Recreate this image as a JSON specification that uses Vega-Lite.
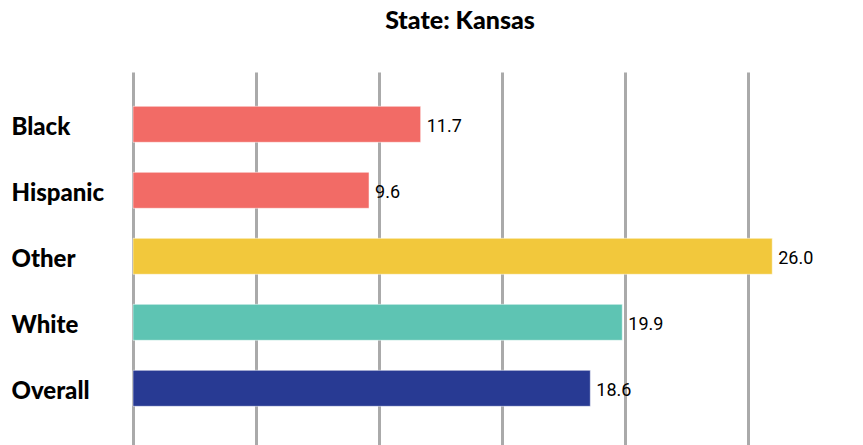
{
  "$schema": "https://vega.github.io/schema/vega-lite/v6.json",
  "autosize": "none",
  "width": 654,
  "height": 373,
  "padding": {"left": 133, "top": 72, "right": 76, "bottom": 0},
  "background": "white",
  "title": {
    "text": "State: Kansas",
    "font": "Lato",
    "fontSize": 25,
    "fontWeight": 900,
    "color": "#000000",
    "anchor": "middle",
    "offset": 38
  },
  "config": {"view": {"stroke": null}},
  "data": {
    "values": [
      {"group": "Black", "value": 11.7},
      {"group": "Hispanic", "value": 9.6},
      {"group": "Other", "value": 26.0},
      {"group": "White", "value": 19.9},
      {"group": "Overall", "value": 18.6}
    ]
  },
  "encoding": {
    "y": {
      "field": "group",
      "type": "nominal",
      "sort": ["Black", "Hispanic", "Other", "White", "Overall"],
      "scale": {"paddingInner": 0.455, "paddingOuter": 0.553, "align": 0.47},
      "axis": {
        "title": null,
        "orient": "left",
        "ticks": false,
        "domain": false,
        "labelAlign": "left",
        "labelPadding": 122,
        "labelOffset": 4,
        "labelFont": "Lato",
        "labelFontSize": 24,
        "labelFontWeight": 900,
        "labelColor": "#000000"
      }
    },
    "x": {
      "field": "value",
      "type": "quantitative",
      "scale": {"domain": [0, 26.6], "nice": false},
      "axis": {
        "title": null,
        "labels": false,
        "ticks": false,
        "domain": false,
        "grid": true,
        "values": [0, 5, 10, 15, 20, 25],
        "gridColor": "#aaaaaa",
        "gridWidth": 3,
        "gridOpacity": 1
      }
    }
  },
  "layer": [
    {
      "mark": {"type": "bar", "stroke": "#ffffff", "strokeOpacity": 0.5, "strokeWidth": 1},
      "encoding": {
        "color": {
          "field": "group",
          "type": "nominal",
          "scale": {
            "domain": ["Black", "Hispanic", "Other", "White", "Overall"],
            "range": ["#F26B66", "#F26B66", "#F2C83C", "#5EC4B3", "#283A93"]
          },
          "legend": null
        }
      }
    },
    {
      "mark": {
        "type": "text",
        "align": "left",
        "baseline": "middle",
        "dx": 6,
        "dy": 3,
        "font": "Roboto",
        "fontSize": 18,
        "color": "#000000"
      },
      "encoding": {
        "text": {"field": "value", "type": "quantitative", "format": ".1f"}
      }
    }
  ]
}
